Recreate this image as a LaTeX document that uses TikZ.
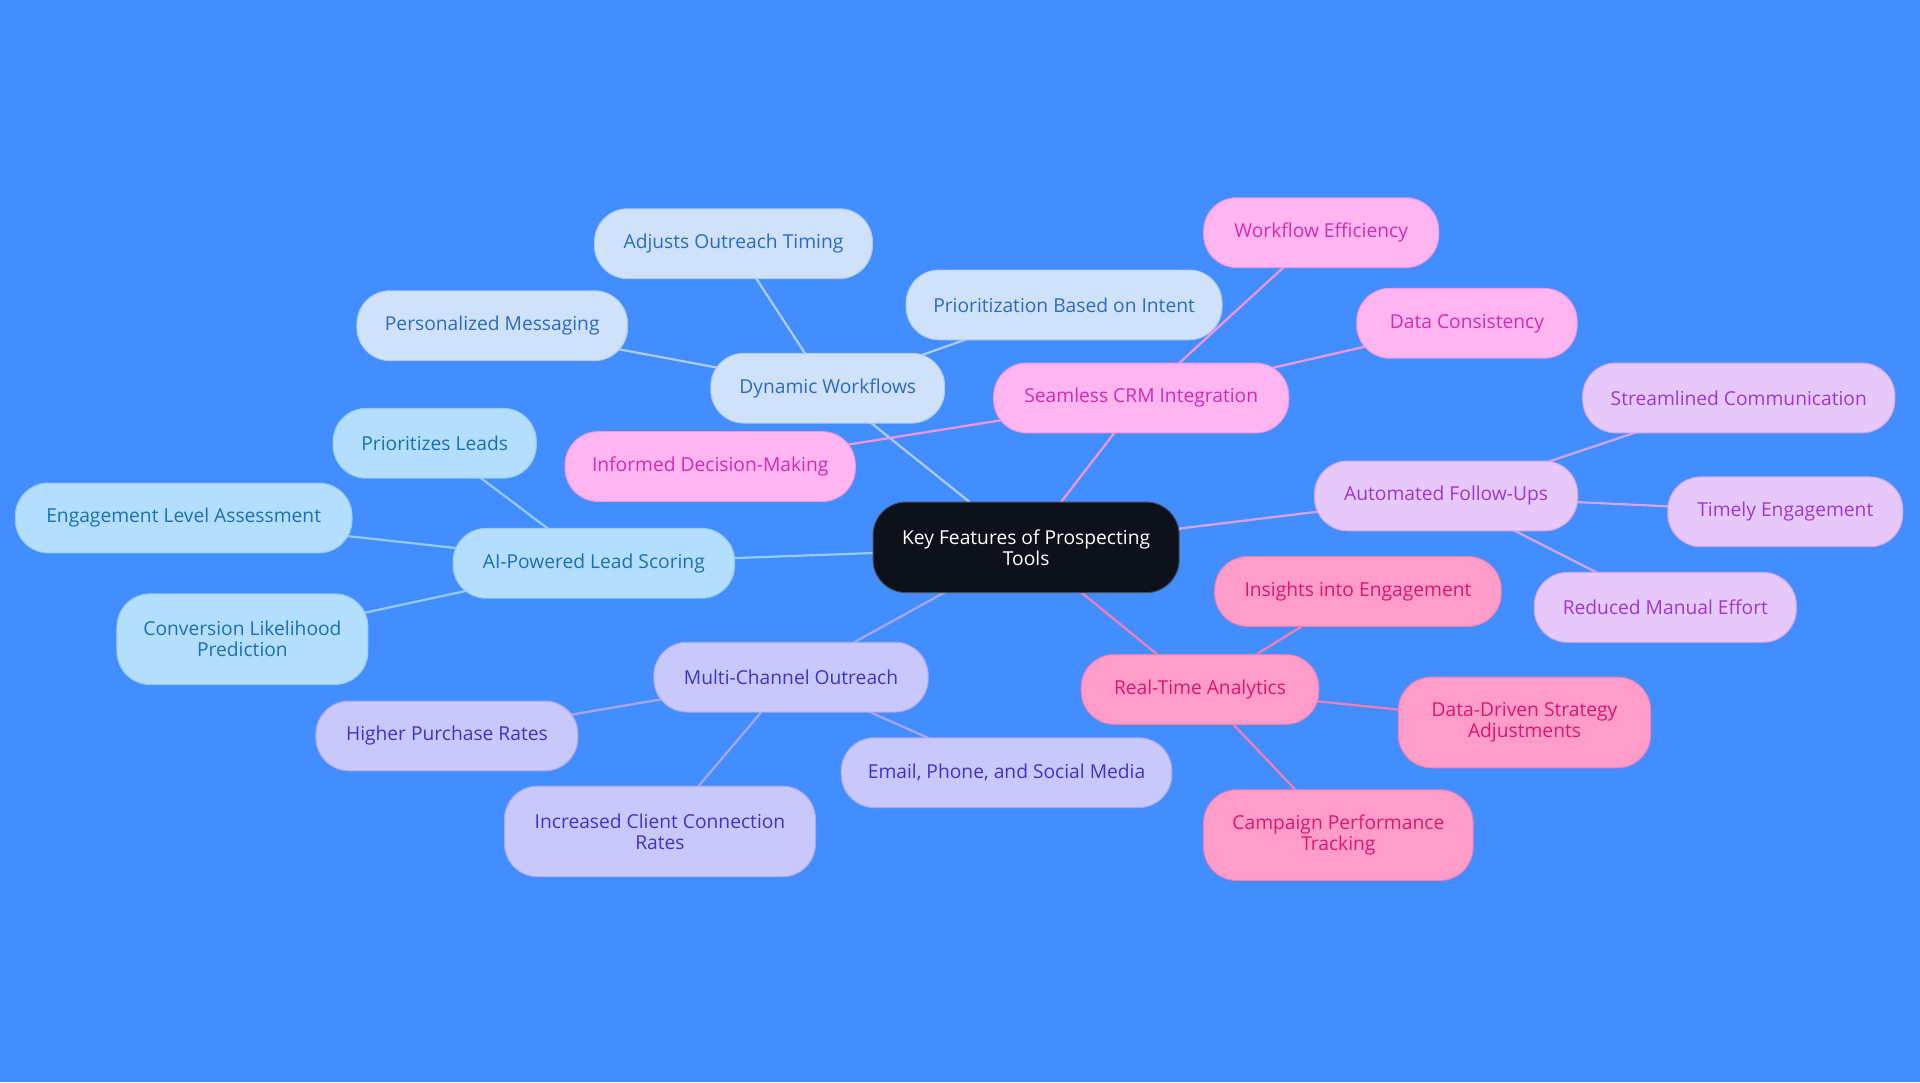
\documentclass[tikz,border=0pt]{standalone}
\usepackage{fontspec}
\setmainfont{Open Sans}
\usetikzlibrary{backgrounds}

\definecolor{bgblue}{HTML}{428DFF}
\definecolor{rootfill}{HTML}{0C111B}
\definecolor{rootline}{HTML}{454B57}
\definecolor{scorefill}{HTML}{B3DEFD}
\definecolor{scoreline}{HTML}{93CBF4}
\definecolor{scoretext}{HTML}{1B6FB5}
\definecolor{flowfill}{HTML}{CFE2FA}
\definecolor{flowline}{HTML}{AFCBEF}
\definecolor{flowtext}{HTML}{2B6AC4}
\definecolor{crmfill}{HTML}{FFB6F0}
\definecolor{crmline}{HTML}{F296E0}
\definecolor{crmtext}{HTML}{D62BAE}
\definecolor{followfill}{HTML}{E7C8FB}
\definecolor{followline}{HTML}{D4A4F1}
\definecolor{followtext}{HTML}{9C36DA}
\definecolor{analyticsfill}{HTML}{FF9DCA}
\definecolor{analyticsline}{HTML}{F47EB3}
\definecolor{analyticstext}{HTML}{E0156E}
\definecolor{outreachfill}{HTML}{C9C8FC}
\definecolor{outreachline}{HTML}{A9A6F2}
\definecolor{outreachtext}{HTML}{3B34C9}

\begin{document}
\begin{tikzpicture}[x=1pt, y=-1pt,
    every node/.style={font=\fontsize{15.7}{17}\selectfont, align=center,
        rounded corners=27pt, inner sep=0pt, line width=0.8pt, minimum height=57pt},
    tall/.style={minimum height=74pt},
    root/.style={fill=rootfill, draw=rootline, text=white, tall},
    scorebox/.style={fill=scorefill, draw=scoreline, text=scoretext},
    flowbox/.style={fill=flowfill, draw=flowline, text=flowtext},
    crmbox/.style={fill=crmfill, draw=crmline, text=crmtext},
    followbox/.style={fill=followfill, draw=followline, text=followtext},
    analyticsbox/.style={fill=analyticsfill, draw=analyticsline, text=analyticstext},
    outreachbox/.style={fill=outreachfill, draw=outreachline, text=outreachtext},
    link/.style={line width=1.8pt}]

    \node[root, minimum width=250pt] (key) at (838,447) {Key Features of Prospecting\\Tools};

    \node[scorebox, minimum width=230pt] (scoring) at (485,460) {AI-Powered Lead Scoring};
    \node[scorebox, minimum width=166pt] (leads) at (355,362) {Prioritizes Leads};
    \node[scorebox, minimum width=275pt] (level) at (150,423) {Engagement Level Assessment};
    \node[scorebox, minimum width=205pt, tall] (likelihood) at (198,522) {Conversion Likelihood\\Prediction};

    \node[flowbox, minimum width=191pt] (workflows) at (676,317) {Dynamic Workflows};
    \node[flowbox, minimum width=227pt] (timing) at (599,199) {Adjusts Outreach Timing};
    \node[flowbox, minimum width=221pt] (messaging) at (402,266) {Personalized Messaging};
    \node[flowbox, minimum width=258pt] (intent) at (869,249) {Prioritization Based on Intent};

    \node[crmbox, minimum width=241pt] (crm) at (932,325) {Seamless CRM Integration};
    \node[crmbox, minimum width=192pt] (efficiency) at (1079,190) {Workflow Efficiency};
    \node[crmbox, minimum width=180pt] (consistency) at (1198,264) {Data Consistency};
    \node[crmbox, minimum width=237pt] (decision) at (580,381) {Informed Decision-Making};

    \node[followbox, minimum width=215pt] (followups) at (1181,405) {Automated Follow-Ups};
    \node[followbox, minimum width=255pt] (communication) at (1420,325) {Streamlined Communication};
    \node[followbox, minimum width=192pt] (timely) at (1458,418) {Timely Engagement};
    \node[followbox, minimum width=214pt] (manual) at (1360,496) {Reduced Manual Effort};

    \node[analyticsbox, minimum width=194pt] (analytics) at (980,563) {Real-Time Analytics};
    \node[analyticsbox, minimum width=234pt] (insights) at (1109,483) {Insights into Engagement};
    \node[analyticsbox, minimum width=206pt, tall] (strategy) at (1245,590) {Data-Driven Strategy\\Adjustments};
    \node[analyticsbox, minimum width=220pt, tall] (campaign) at (1093,682) {Campaign Performance\\Tracking};

    \node[outreachbox, minimum width=224pt] (outreach) at (646,553) {Multi-Channel Outreach};
    \node[outreachbox, minimum width=214pt] (purchase) at (365,601) {Higher Purchase Rates};
    \node[outreachbox, minimum width=254pt, tall] (connection) at (539,679) {Increased Client Connection\\Rates};
    \node[outreachbox, minimum width=270pt] (channels) at (822,631) {Email, Phone, and Social Media};

    \begin{scope}[on background layer]
        \fill[bgblue] (0,0) rectangle (1568,884);
        % branches from the root
        \draw[link, scoreline] (key.center) -- (scoring.center);
        \draw[link, flowline] (key.center) -- (workflows.center);
        \draw[link, crmline] (key.center) -- (crm.center);
        \draw[link, followline] (key.center) -- (followups.center);
        \draw[link, analyticsline] (key.center) -- (analytics.center);
        \draw[link, outreachline] (key.center) -- (outreach.center);
        % leaves
        \foreach \leaf in {leads, level, likelihood}
            \draw[link, scoreline] (scoring.center) -- (\leaf.center);
        \foreach \leaf in {timing, messaging, intent}
            \draw[link, flowline] (workflows.center) -- (\leaf.center);
        \foreach \leaf in {efficiency, consistency, decision}
            \draw[link, crmline] (crm.center) -- (\leaf.center);
        \foreach \leaf in {communication, timely, manual}
            \draw[link, followline] (followups.center) -- (\leaf.center);
        \foreach \leaf in {insights, strategy, campaign}
            \draw[link, analyticsline] (analytics.center) -- (\leaf.center);
        \foreach \leaf in {purchase, connection, channels}
            \draw[link, outreachline] (outreach.center) -- (\leaf.center);
    \end{scope}
\end{tikzpicture}
\end{document}
